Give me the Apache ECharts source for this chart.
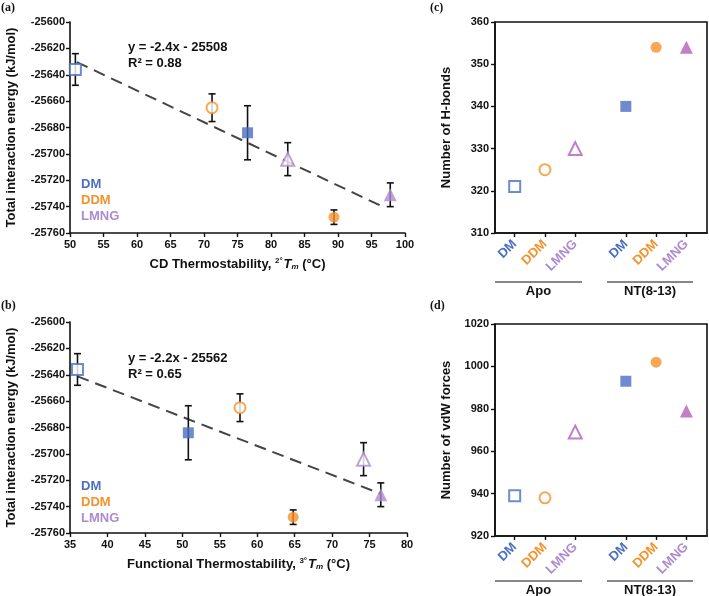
<!DOCTYPE html>
<html>
<head>
<meta charset="utf-8">
<script src="https://cdn.jsdelivr.net/npm/echarts@6/dist/echarts.min.js"></script>
<style>
  html, body { margin: 0; padding: 0; background: #fff; }
  #chart { width: 709px; height: 596px; }
</style>
</head>
<body>
<div id="chart"></div>
<script>
const chartDom = document.getElementById('chart');
const myChart = echarts.init(chartDom);

// order: Apo DM, Apo DDM, Apo LMNG, NT DM, NT DDM, NT LMNG
const detergents = ['DM', 'DDM', 'LMNG', 'DM', 'DDM', 'LMNG'];
const filled = [false, false, false, true, true, true];
const cdTm = [50.8, 71.2, 82.5, 76.5, 89.4, 97.8];
const funcTm = [36.0, 57.7, 74.2, 50.8, 64.8, 76.5];
const energy = [-25636, -25665, -25704, -25684, -25748, -25731];
const energyErr = [12, 10.5, 12.5, 20.5, 5.5, 9];
const hbonds = [321, 325, 330, 340, 354, 354];
const vdw = [939, 938, 969, 993, 1002, 979];
const catPos = [1, 2, 3, 4.67, 5.67, 6.67];
const groups = ['Apo', 'NT(8-13)'];

const trendA = [[51, -25630.4], [97, -25740.8]];
const trendB = [[36, -25641.2], [76.5, -25730.3]];
const eqA = ['y = -2.4x - 25508', 'R\u00b2 = 0.88'];
const eqB = ['y = -2.2x - 25562', 'R\u00b2 = 0.65'];

const blue = '#4a6fc0';
const orange = '#f5922b';
const lavender = '#ad8bd0';
const magenta = '#b35fb8';
const symbols = { DM: 'rect', DDM: 'circle', LMNG: 'triangle' };
const FONT = 'Liberation Sans';

function colorOf(name, panelTri) {
    if (name === 'DM') return blue;
    if (name === 'DDM') return orange;
    return panelTri;
}

function pointData(xs, ys, triColor) {
    return xs.map((x, i) => {
        const col = colorOf(detergents[i], triColor);
        return {
            value: [x, ys[i]],
            symbol: symbols[detergents[i]],
            symbolSize: detergents[i] === 'LMNG' ? 13 : 11,
            itemStyle: {
                color: filled[i] ? col : '#fff',
                borderColor: col,
                borderWidth: filled[i] ? 0 : 2
            }
        };
    });
}

function errorSeries(idx, xs) {
    return {
        type: 'custom',
        xAxisIndex: idx,
        yAxisIndex: idx,
        z: 2,
        data: xs.map((x, i) => [x, energy[i] - energyErr[i], energy[i] + energyErr[i]]),
        renderItem: function (params, api) {
            const lo = api.coord([api.value(0), api.value(1)]);
            const hi = api.coord([api.value(0), api.value(2)]);
            const w = 3.5;
            const st = { stroke: '#111', lineWidth: 1.6 };
            return {
                type: 'group',
                children: [
                    { type: 'line', shape: { x1: lo[0], y1: lo[1], x2: hi[0], y2: hi[1] }, style: st },
                    { type: 'line', shape: { x1: lo[0] - w, y1: lo[1], x2: lo[0] + w, y2: lo[1] }, style: st },
                    { type: 'line', shape: { x1: hi[0] - w, y1: hi[1], x2: hi[0] + w, y2: hi[1] }, style: st }
                ]
            };
        }
    };
}

const axisLineStyle = { lineStyle: { color: '#111', width: 1.6 } };
const tickStyle = { length: 4, lineStyle: { color: '#111', width: 1.4 } };
const labelStyle = { color: '#111', fontFamily: FONT, fontWeight: 'bold', fontSize: 11,
    formatter: v => String(v) };
const nameStyle = { color: '#111', fontFamily: FONT, fontWeight: 'bold', fontSize: 13 };

function tmName(prefix, sup) {
    return '{n|' + prefix + ', }{sup|' + sup + '\u00b0}{it|T}{sub|m}{n| (\u00b0C)}';
}
const tmRich = {
    n: { fontFamily: FONT, fontWeight: 'bold', fontSize: 13, color: '#111' },
    sup: { fontFamily: FONT, fontWeight: 'bold', fontSize: 8, color: '#111', verticalAlign: 'top', padding: [0, 1, 6, 0] },
    it: { fontFamily: FONT, fontWeight: 'bold', fontStyle: 'italic', fontSize: 13, color: '#111' },
    sub: { fontFamily: FONT, fontWeight: 'bold', fontStyle: 'italic', fontSize: 8, color: '#111', verticalAlign: 'bottom', padding: [5, 0, 0, 0] }
};

function energyX(idx, min, max, name) {
    return {
        type: 'value', gridIndex: idx, min: min, max: max, interval: 5,
        axisLine: axisLineStyle, axisTick: tickStyle, splitLine: { show: false },
        axisLabel: Object.assign({ margin: 6 }, labelStyle),
        name: name, nameLocation: 'middle', nameGap: 24,
        nameTextStyle: { rich: tmRich }
    };
}
function energyY(idx) {
    return {
        type: 'value', gridIndex: idx, min: -25760, max: -25600, interval: 20,
        axisLine: axisLineStyle, axisTick: tickStyle, splitLine: { show: false },
        axisLabel: Object.assign({ margin: 5 }, labelStyle),
        name: 'Total interaction energy (kJ/mol)', nameLocation: 'middle', nameGap: 52,
        nameTextStyle: nameStyle
    };
}

const catRich = {};
detergents.forEach((d, i) => {
    catRich['c' + i] = { color: d === 'DM' ? blue : d === 'DDM' ? orange : lavender,
        fontFamily: FONT, fontWeight: 'bold', fontSize: 13 };
});
function catX(idx) {
    return {
        type: 'value', gridIndex: idx, min: 0.35, max: 7.35,
        axisLine: axisLineStyle, splitLine: { show: false },
        axisTick: Object.assign({ customValues: catPos }, tickStyle),
        axisLabel: {
            customValues: catPos, rotate: 45, margin: 9,
            formatter: function (v) {
                let best = 0;
                catPos.forEach((p, i) => { if (Math.abs(p - v) < Math.abs(catPos[best] - v)) best = i; });
                return '{c' + best + '|' + detergents[best] + '}';
            },
            rich: catRich
        }
    };
}
function countY(idx, min, max, interval, name) {
    return {
        type: 'value', gridIndex: idx, min: min, max: max, interval: interval,
        axisLine: axisLineStyle, axisTick: tickStyle, splitLine: { show: false },
        axisLabel: Object.assign({ margin: 6 }, labelStyle),
        name: name, nameLocation: 'middle', nameGap: 42,
        nameTextStyle: nameStyle
    };
}

function trendSeries(idx, pts) {
    return {
        type: 'line', xAxisIndex: idx, yAxisIndex: idx, data: pts, symbol: 'none', z: 1,
        lineStyle: { color: '#444', width: 2, type: [12, 7] }, silent: true
    };
}

function scatter(idx, xs, ys, triColor) {
    return { type: 'scatter', xAxisIndex: idx, yAxisIndex: idx, z: 3, data: pointData(xs, ys, triColor) };
}

function txt(x, y, s, opts) {
    return { type: 'text', x: x, y: y, style: Object.assign({ text: s, fill: '#111',
        font: 'bold 13px "' + FONT + '"', textVerticalAlign: 'middle' }, opts || {}) };
}
function panelLabel(x, y, s) {
    return { type: 'text', x: x, y: y, style: { text: s, fill: '#111', font: 'bold 12px "Liberation Serif"' } };
}
function legendTexts(x, y0) {
    return ['DM', 'DDM', 'LMNG'].map((d, i) =>
        txt(x, y0 + i * 16, d, { fill: colorOf(d, lavender) }));
}
function groupMarks(yLine) {
    const out = [];
    [[495, 582], [607, 693]].forEach((g, i) => {
        out.push({ type: 'line', shape: { x1: g[0], y1: yLine, x2: g[1], y2: yLine },
            style: { stroke: '#111', lineWidth: 1.2 } });
        out.push(txt((g[0] + g[1]) / 2, yLine + 9, groups[i], { textAlign: 'center' }));
    });
    return out;
}

const option = {
    animation: false,
    grid: [
        { left: 70, top: 22, width: 335, height: 211 },
        { left: 70, top: 322, width: 337, height: 211 },
        { left: 495, top: 22, width: 212, height: 211, show: true, borderColor: '#111', borderWidth: 1.6 },
        { left: 495, top: 324, width: 212, height: 212, show: true, borderColor: '#111', borderWidth: 1.6 }
    ],
    xAxis: [
        energyX(0, 50, 100, tmName('CD Thermostability', '2')),
        energyX(1, 35, 80, tmName('Functional Thermostability', '3')),
        catX(2),
        catX(3)
    ],
    yAxis: [
        energyY(0),
        energyY(1),
        countY(2, 310, 360, 10, 'Number of H-bonds'),
        countY(3, 920, 1020, 20, 'Number of vdW forces')
    ],
    series: [
        trendSeries(0, trendA),
        errorSeries(0, cdTm),
        scatter(0, cdTm, energy, lavender),
        trendSeries(1, trendB),
        errorSeries(1, funcTm),
        scatter(1, funcTm, energy, lavender),
        scatter(2, catPos, hbonds, magenta),
        scatter(3, catPos, vdw, magenta)
    ],
    graphic: [
        panelLabel(1, 2, '(a)'),
        panelLabel(1, 300, '(b)'),
        panelLabel(430, 2, '(c)'),
        panelLabel(430, 300, '(d)'),
        txt(128, 47, eqA[0]), txt(128, 63, eqA[1]),
        txt(128, 358, eqB[0]), txt(128, 374, eqB[1])
    ].concat(legendTexts(81, 184), legendTexts(81, 486), groupMarks(282), groupMarks(581))
};

myChart.setOption(option);
</script>
</body>
</html>
